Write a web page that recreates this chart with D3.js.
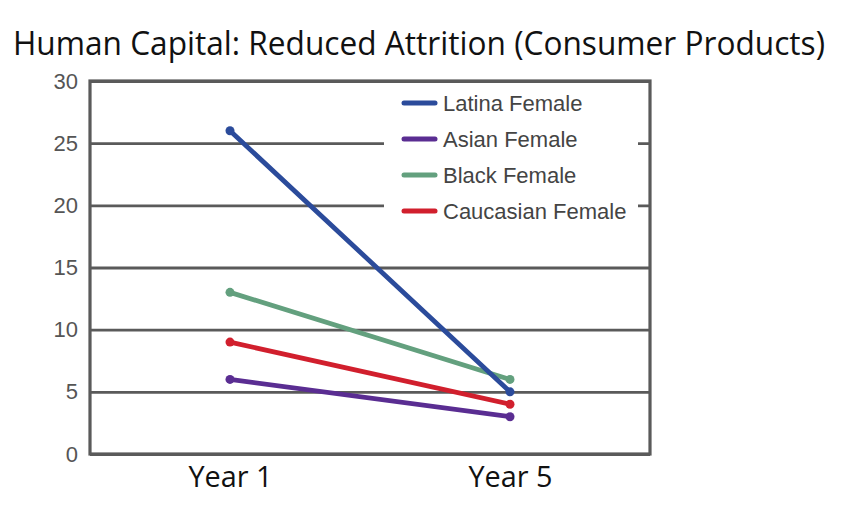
<!DOCTYPE html>
<html lang="en">
<head>
    <meta charset="UTF-8">
    <title>Human Capital: Reduced Attrition</title>
    <script src="https://d3js.org/d3.v7.min.js"></script>
    <style>
        html, body { margin: 0; padding: 0; background: #fff; }
        svg { display: block; }
    </style>
</head>
<body>
    <svg width="867" height="512"></svg>
    <script>
        // data
        const years = ["Year 1", "Year 5"];
        const seriesNames = ["Latina Female", "Asian Female", "Black Female", "Caucasian Female"];
        const latina = [26, 5];
        const asian = [6, 3];
        const black = [13, 6];
        const caucasian = [9, 4];
        const yTicks = [0, 5, 10, 15, 20, 25, 30];

        const colors = {
            "Latina Female": "#2b4b9b",
            "Asian Female": "#5a2d92",
            "Black Female": "#63a07e",
            "Caucasian Female": "#d11f2d"
        };

        const series = [
            { name: "Latina Female", values: latina },
            { name: "Asian Female", values: asian },
            { name: "Black Female", values: black },
            { name: "Caucasian Female", values: caucasian }
        ];

        const svg = d3.select("svg");
        const plot = { left: 90, right: 650, top: 81, bottom: 454 };

        const x = d3.scalePoint().domain(years).range([plot.left, plot.right]).padding(0.5);
        const y = d3.scaleLinear().domain([0, 30]).range([plot.bottom, plot.top]);

        // title
        svg.append("text")
            .attr("x", 13).attr("y", 55)
            .attr("textLength", 812).attr("lengthAdjust", "spacingAndGlyphs")
            .style("font-family", "'Open Sans', 'Noto Sans', sans-serif")
            .style("font-size", "33px")
            .attr("fill", "#111")
            .text("Human Capital: Reduced Attrition (Consumer Products)");

        // gridlines + y labels
        const yAxis = d3.axisLeft(y).tickValues(yTicks)
            .tickSize(-(plot.right - plot.left)).tickPadding(12);
        const yg = svg.append("g").attr("transform", `translate(${plot.left},0)`).call(yAxis);
        yg.select(".domain").remove();
        yg.selectAll(".tick line").attr("stroke", "#5a5a5a").attr("stroke-width", 2.8);
        yg.selectAll(".tick text")
            .attr("fill", "#555")
            .attr("font-size", null)
            .style("font-family", "'Liberation Sans', Arial, sans-serif")
            .style("font-size", "22px");

        // frame
        svg.append("rect")
            .attr("x", plot.left).attr("y", plot.top)
            .attr("width", plot.right - plot.left).attr("height", plot.bottom - plot.top)
            .attr("fill", "none").attr("stroke", "#5a5a5a").attr("stroke-width", 3.2);

        // x labels
        const xAxis = d3.axisBottom(x).tickSize(0).tickPadding(0);
        const xg = svg.append("g").attr("transform", `translate(0,${plot.bottom})`).call(xAxis);
        xg.select(".domain").remove();
        xg.selectAll(".tick text")
            .attr("y", 33).attr("dy", null)
            .attr("fill", "#111")
            .style("font-family", "'Open Sans', 'Noto Sans', sans-serif")
            .style("font-size", "30px")
            .attr("textLength", 84).attr("lengthAdjust", "spacingAndGlyphs");

        // legend box (covers gridlines)
        const legend = svg.append("g");
        legend.append("rect")
            .attr("x", 384).attr("y", 86).attr("width", 254).attr("height", 140)
            .attr("fill", "#fff");
        const ly = d3.scalePoint().domain(seriesNames).range([103, 211]);
        seriesNames.forEach(name => {
            legend.append("line")
                .attr("x1", 404).attr("x2", 435)
                .attr("y1", ly(name)).attr("y2", ly(name))
                .attr("stroke", colors[name]).attr("stroke-width", 5)
                .attr("stroke-linecap", "round");
            legend.append("text")
                .attr("x", 443).attr("y", ly(name)).attr("dy", "0.36em")
                .attr("fill", "#444")
                .style("font-family", "'Liberation Sans', Arial, sans-serif")
                .style("font-size", "22px")
                .text(name);
        });

        // lines, drawn so Latina sits on top
        const line = d3.line().x((d, i) => x(years[i])).y(d => y(d));
        const drawOrder = ["Black Female", "Caucasian Female", "Asian Female", "Latina Female"];
        drawOrder.forEach(name => {
            const s = series.find(d => d.name === name);
            svg.append("path")
                .datum(s.values)
                .attr("d", line)
                .attr("fill", "none")
                .attr("stroke", colors[name])
                .attr("stroke-width", 4.8)
                .attr("stroke-linecap", "round");
            svg.selectAll(null)
                .data(s.values)
                .enter().append("circle")
                .attr("cx", (d, i) => x(years[i]))
                .attr("cy", d => y(d))
                .attr("r", 4.5)
                .attr("fill", colors[name]);
        });
    </script>
</body>
</html>
